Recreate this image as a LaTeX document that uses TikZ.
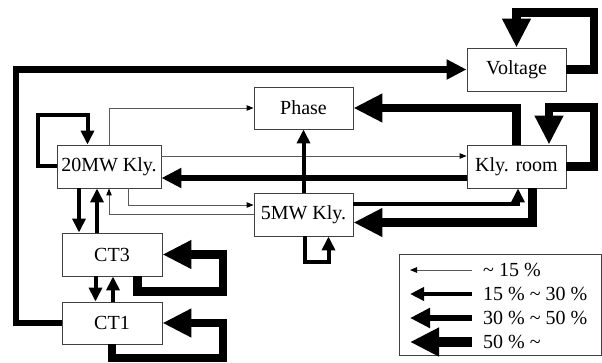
\documentclass[tikz,border=0pt]{standalone}
\usepackage{fontspec}
\setmainfont{Liberation Serif}
\usetikzlibrary{arrows.meta}
\tikzset{
  box/.style={draw=black!75, line width=0.9pt, minimum width=99pt, minimum height=43pt, inner sep=0pt, fill=white, font=\fontsize{20}{24}\selectfont},
  lbl/.style={anchor=west, inner sep=0pt, font=\fontsize{20}{24}\selectfont},
  c1/.style={draw=black!65, line width=0.9pt, -{Triangle[length=7pt,width=5.5pt,color=black]}},
  c2/.style={draw=black, line width=4pt, -{Triangle[length=14pt,width=13pt]}},
  c3/.style={draw=black, line width=6.5pt, -{Triangle[length=20pt,width=19pt]}},
  c4/.style={draw=black, line width=8.5pt, -{Triangle[length=29pt,width=27pt]}},
}
\begin{document}
\begin{tikzpicture}[x=1pt,y=-1pt]
\useasboundingbox (0,0) rectangle (602,363);

% nodes
\node[box] (volt) at (516.5,69.5) {Voltage};
\node[box, minimum height=42pt] (phase) at (303.5,108) {Phase};
\node[box] (kly) at (516.5,166.5) {Kly. room};
\node[box, minimum width=104pt] (mw20) at (109,166.5) {20MW Kly.};
\node[box] (mw5) at (303.5,214.5) {5MW Kly.};
\node[box, minimum width=100pt] (ct3) at (112,254.5) {CT3};
\node[box, minimum width=100pt, minimum height=42pt] (ct1) at (112,323) {CT1};

% connectors
\draw[c3] (ct1.west) -| (16,69.5) -- (volt.west);
\draw[c4] (volt.east) -| (594,12.5) -| (volt.north);
\draw[c4] (kly.east) -| (594,107.5) -| ([xshift=32.5pt]kly.north);
\draw[c4] (kly.north) |- (phase.east);
\draw[c3] ([yshift=-11.5pt]kly.west) -- ([yshift=-11.5pt]mw20.east);
\draw[c1] ([yshift=10.5pt]mw20.east) -- ([yshift=10.5pt]kly.west);
\draw[c1] (mw20.north) |- (phase.west);
\draw[c2] (mw5.north) -- (phase.south);
\draw[c1] ([xshift=19.5pt]mw20.south) |- ([yshift=9.5pt]mw5.west);
\draw[c1] (mw5.west) -| (mw20.south);
\draw[c2] ([xshift=-30pt]mw20.south) -- ([xshift=-30pt]mw20.south |- ct3.north);
\draw[c2] ([xshift=-15pt]ct3.north) -- ([xshift=-15pt]ct3.north |- mw20.south);
\draw[c2] ([xshift=-16.5pt]ct3.south) -- ([xshift=-16.5pt]ct3.south |- ct1.north);
\draw[c2] ([xshift=1pt]ct1.north) -- ([xshift=1pt]ct1.north |- ct3.south);
\draw[c4] ([xshift=25.5pt]ct3.south) |- (223,291.5) |- (ct3.east);
\draw[c4] (ct1.south) |- (223,358) |- (ct1.east);
\draw[c2] (mw20.west) -| (38,115) -| ([xshift=-21.5pt]mw20.north);
\draw[c2] ([xshift=1.5pt]mw5.south) |- (328.5,262) -- ([xshift=25pt]mw5.south);
\draw[c2] ([yshift=10.5pt]mw5.east) -| ([xshift=1.5pt]kly.south);
\draw[c4] ([xshift=16pt]kly.south) |- ([yshift=-8pt]mw5.east);

% legend
\node[draw=black!75, line width=0.9pt, minimum width=202pt, minimum height=101pt, inner sep=0pt] (leg) at (500,304.5) {};
\coordinate (l1a) at (472,270); \coordinate (l1b) at (410,270);
\coordinate (l2a) at (472,294); \coordinate (l2b) at (410,294);
\coordinate (l3a) at (472,318); \coordinate (l3b) at (410,318);
\coordinate (l4a) at (472,342); \coordinate (l4b) at (410,342);
\draw[c1] (l1a) -- (l1b);
\draw[c2] (l2a) -- (l2b);
\draw[c3] (l3a) -- (l3b);
\draw[c4, line width=10.5pt] (l4a) -- (l4b);
\node[lbl] (t1) at (483,270) {\textasciitilde{} 15 \%};
\node[lbl] (t2) at (483,294) {15 \% \textasciitilde{} 30 \%};
\node[lbl] (t3) at (483,318) {30 \% \textasciitilde{} 50 \%};
\node[lbl] (t4) at (483,342) {50 \% \textasciitilde};
\end{tikzpicture}
\end{document}
